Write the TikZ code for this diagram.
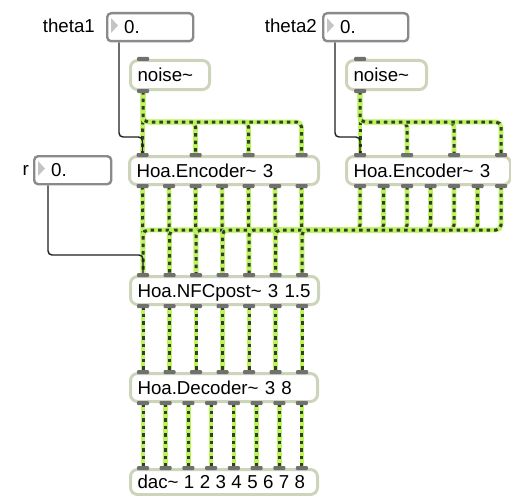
\documentclass[tikz,border=0pt]{standalone}
\usepackage{fontspec}
\setmainfont{Liberation Sans}
\usetikzlibrary{calc}
\pgfdeclarelayer{cords}
\pgfsetlayers{cords,main}

\definecolor{boxedge}{RGB}{204,212,186}
\definecolor{numedge}{RGB}{138,138,138}
\definecolor{portgray}{RGB}{112,112,112}
\definecolor{sigbase}{RGB}{188,244,94}
\definecolor{sigdash}{RGB}{52,60,44}
\definecolor{trigray}{RGB}{196,196,196}
\definecolor{ctlcol}{RGB}{30,30,30}

\newcommand\patchfont{\fontsize{18.7}{20}\selectfont}

% object box: #1 name, #2-#5 corners (x1,y1,x2,y2), #6 text
\newcommand\maxobj[6]{%
  \pgfmathsetmacro\objw{#4-#2-14}%
  \pgfmathsetmacro\objh{#5-#3}%
  \node[objbox, text width=\objw pt, minimum height=\objh pt] (#1) at (#2,#3) {\mbox{#6}};}
% number box
\newcommand\maxnum[5]{%
  \pgfmathsetmacro\objw{#4-#2-34}%
  \pgfmathsetmacro\objh{#5-#3}%
  \node[numbox, text width=\objw pt, minimum height=\objh pt] (#1) at (#2,#3) {0.};
  \fill[trigray] ($(#1.north west)+(5,6)$) -- ($(#1.north west)+(12,13.5)$) -- ($(#1.north west)+(5,21)$) -- cycle;}

\tikzset{
  objbox/.style={draw=boxedge, line width=3pt, fill=white, rounded corners=7pt,
    anchor=north west, inner xsep=7pt, inner ysep=0pt, align=left,
    font=\patchfont, text height=13.4pt, text depth=0pt},
  numbox/.style={draw=numedge, line width=2.4pt, fill=white, rounded corners=4pt,
    anchor=north west, inner xsep=17pt, inner ysep=0pt, align=left,
    font=\patchfont, text height=13.4pt, text depth=0pt},
  tag/.style={font=\patchfont, inner sep=0pt, text height=13.4pt, text depth=0pt},
  sig/.style={preaction={draw=sigbase, solid, line width=4.6pt},
    draw=sigdash, line width=3pt, dash pattern=on 3.5pt off 4pt},
  ctl/.style={draw=ctlcol, line width=1.4pt, rounded corners=4pt},
}

\begin{document}
\begin{tikzpicture}[x=1pt,y=-1pt]
\useasboundingbox (0,0) rectangle (511,495);

% labels
\node[tag, anchor=east] (labA) at (95,26) {theta1};
\node[tag, anchor=east] (labB) at (317,26) {theta2};
\node[tag, anchor=east] (labR) at (29,169) {r};

% number boxes
\maxnum{numA}{106}{12}{192}{40}
\maxnum{numB}{322}{12}{407}{40}
\maxnum{numR}{33}{155}{110}{183}

% objects
\maxobj{noiseA}{129}{59}{208}{88}{noise\textasciitilde}
\maxobj{noiseB}{345}{59}{425}{88}{noise\textasciitilde}
\maxobj{encA}{128}{155}{317}{183}{Hoa.Encoder\textasciitilde\ 3}
\maxobj{encB}{345}{155}{509}{183}{Hoa.Encoder\textasciitilde\ 3}
\maxobj{nfc}{129}{275}{317}{303}{Hoa.NFCpost\textasciitilde\ 3 1.5}
\maxobj{dec}{129}{372}{316}{400}{Hoa.Decoder\textasciitilde\ 3 8}
\maxobj{dac}{129}{468}{316}{493}{\spaceskip=0.29em dac\textasciitilde\ 1 2 3 4 5 6 7 8}

% port positions
\coordinate (numA-o) at ($(numA.south west)+(13,0)$);
\coordinate (numB-o) at ($(numB.south west)+(13,0)$);
\coordinate (numR-o) at ($(numR.south west)+(15,0)$);
\coordinate (noiseA-i1) at ($(noiseA.north west)+(14,0)$);
\coordinate (noiseA-o1) at ($(noiseA.south west)+(14,0)$);
\coordinate (noiseB-i1) at ($(noiseB.north west)+(15,0)$);
\coordinate (noiseB-o1) at ($(noiseB.south west)+(15,0)$);
\foreach \k in {1,...,4} {
  \coordinate (encA-i\k) at ($(encA.north west)+({14.5+(\k-1)*53},0)$);
  \coordinate (encB-i\k) at ($(encB.north west)+({15+(\k-1)*47},0)$);
}
\foreach \k in {1,...,7} {
  \coordinate (encA-o\k) at ($(encA.south west)+({14.5+(\k-1)*26.5},0)$);
  \coordinate (encB-o\k) at ($(encB.south west)+({15+(\k-1)*23.5},0)$);
  \coordinate (nfc-i\k) at ($(nfc.north west)+({14+(\k-1)*26.5},0)$);
  \coordinate (nfc-o\k) at ($(nfc.south west)+({14+(\k-1)*26.5},0)$);
  \coordinate (dec-i\k) at ($(dec.north west)+({14+(\k-1)*26.5},0)$);
}
\foreach \k in {1,...,8} {
  \coordinate (dec-o\k) at ($(dec.south west)+({14+(\k-1)*22.71},0)$);
  \coordinate (dac-i\k) at ($(dac.north west)+({14+(\k-1)*22.71},0)$);
}

% port markers
\foreach \p in {noiseA-i1,noiseA-o1,noiseB-i1,noiseB-o1,
  encA-i1,encA-i2,encA-i3,encA-i4,encB-i1,encB-i2,encB-i3,encB-i4,
  encA-o1,encA-o2,encA-o3,encA-o4,encA-o5,encA-o6,encA-o7,
  encB-o1,encB-o2,encB-o3,encB-o4,encB-o5,encB-o6,encB-o7,
  nfc-i1,nfc-i2,nfc-i3,nfc-i4,nfc-i5,nfc-i6,nfc-i7,
  nfc-o1,nfc-o2,nfc-o3,nfc-o4,nfc-o5,nfc-o6,nfc-o7,
  dec-i1,dec-i2,dec-i3,dec-i4,dec-i5,dec-i6,dec-i7,
  dec-o1,dec-o2,dec-o3,dec-o4,dec-o5,dec-o6,dec-o7,dec-o8,
  dac-i1,dac-i2,dac-i3,dac-i4,dac-i5,dac-i6,dac-i7,dac-i8}
  \fill[portgray, rounded corners=1pt] ($(\p)+(-6,-2)$) rectangle ($(\p)+(6,2)$);

\begin{pgfonlayer}{cords}
  % noise sources fanned out to the encoder inlets
  \draw[sig] (noiseA-o1) -- (encA-i1);
  \draw[sig] (noiseB-o1) -- (encB-i1);
  \foreach \k in {2,3,4} {
    \draw[sig, rounded corners=5pt] (noiseA-o1) -- (noiseA-o1 |- 0,122) -- (encA-i\k |- 0,122) -- (encA-i\k);
    \draw[sig, rounded corners=5pt] (noiseB-o1) -- (noiseB-o1 |- 0,122) -- (encB-i\k |- 0,122) -- (encB-i\k);
  }
  % encoders into the near-field filter
  \foreach \k in {1,...,7}
    \draw[sig] (encA-o\k) -- (nfc-i\k);
  \foreach \k in {1,...,7}
    \draw[sig, rounded corners=5pt] (encB-o\k) -- (encB-o\k |- 0,230) -- (nfc-i\k |- 0,230) -- (nfc-i\k);
  % filter -> decoder -> dac
  \foreach \k in {1,...,7}
    \draw[sig] (nfc-o\k) -- (dec-i\k);
  \foreach \k in {1,...,8}
    \draw[sig] (dec-o\k) -- (dac-i\k);
  % control cords
  \draw[ctl] (numA-o) -- (numA-o |- 0,137) -- (encA-i1 |- 0,137) -- (encA-i1);
  \draw[ctl] (numB-o) -- (numB-o |- 0,137) -- (encB-i1 |- 0,137) -- (encB-i1);
  \draw[ctl] (numR-o) -- (numR-o |- 0,255) -- (nfc-i1 |- 0,255) -- (nfc-i1);
\end{pgfonlayer}
\end{tikzpicture}
\end{document}
